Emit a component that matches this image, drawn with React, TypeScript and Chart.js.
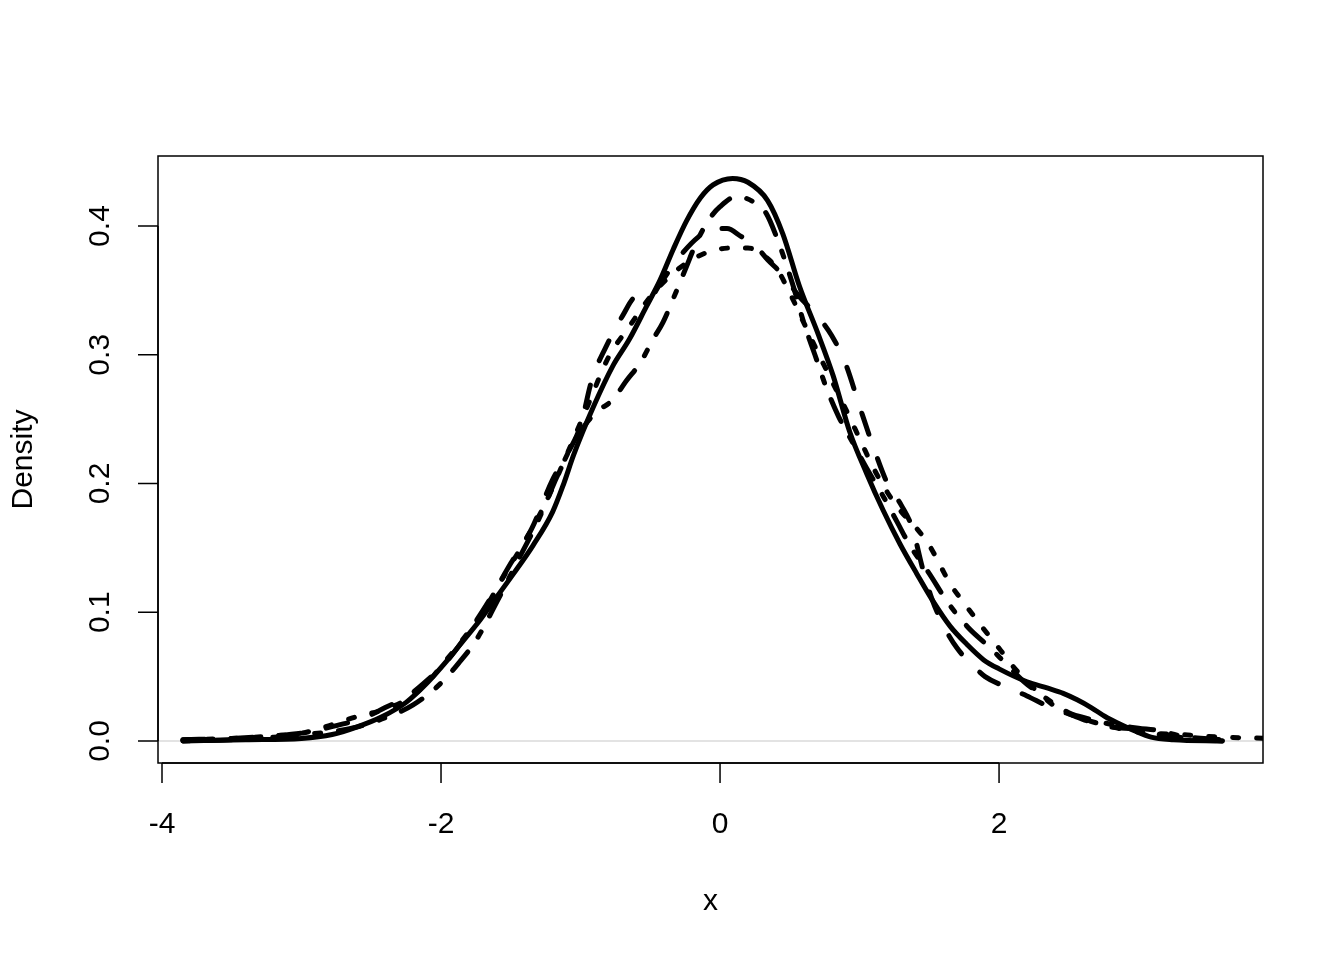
import React, { useEffect, useRef } from "react";
import { Chart, registerables } from "chart.js";

Chart.register(...registerables);

// ---- data ----
const solidX = [-3.85, -3.4, -3.0, -2.78, -2.6, -2.42, -2.25, -2.1, -1.96, -1.84, -1.72, -1.6, -1.48, -1.34, -1.2, -1.12, -1.05, -0.91, -0.77, -0.65, -0.53, -0.43, -0.335, -0.24, -0.14, -0.05, 0.09, 0.2, 0.34, 0.45, 0.57, 0.7, 0.81, 0.93, 1.05, 1.17, 1.29, 1.41, 1.53, 1.65, 1.77, 1.89, 2.0, 2.2, 2.35, 2.46, 2.56, 2.66, 2.76, 2.85, 2.97, 3.09, 3.25, 3.6];
const solidY = [0.0, 0.001, 0.002, 0.005, 0.011, 0.019, 0.03, 0.045, 0.062, 0.078, 0.094, 0.112, 0.13, 0.152, 0.178, 0.2, 0.222, 0.259, 0.291, 0.312, 0.337, 0.358, 0.382, 0.404, 0.422, 0.432, 0.437, 0.434, 0.42, 0.394, 0.353, 0.317, 0.284, 0.24, 0.208, 0.179, 0.153, 0.13, 0.108, 0.089, 0.075, 0.063, 0.056, 0.046, 0.041, 0.037, 0.032, 0.026, 0.019, 0.014, 0.008, 0.003, 0.001, 0.0];

const dashedX = [-3.85, -3.5, -3.2, -2.95, -2.75, -2.55, -2.4, -2.25, -2.1, -1.95, -1.8, -1.65, -1.5, -1.35, -1.2, -1.1, -1.0, -0.92, -0.8, -0.7, -0.6, -0.5, -0.43, -0.3, -0.15, -0.05, 0.05, 0.15, 0.25, 0.34, 0.45, 0.57, 0.7, 0.8, 0.9, 1.0, 1.1, 1.2, 1.3, 1.38, 1.45, 1.52, 1.6, 1.7, 1.8, 1.9, 2.05, 2.2, 2.35, 2.5, 2.65, 2.8, 3.0, 3.2, 3.4, 3.6];
const dashedY = [0.001, 0.002, 0.004, 0.007, 0.012, 0.018, 0.026, 0.034, 0.047, 0.063, 0.085, 0.11, 0.138, 0.165, 0.203, 0.222, 0.245, 0.28, 0.31, 0.33, 0.345, 0.345, 0.355, 0.375, 0.392, 0.398, 0.398, 0.392, 0.385, 0.374, 0.362, 0.345, 0.33, 0.315, 0.293, 0.26, 0.228, 0.2, 0.183, 0.165, 0.135, 0.11, 0.09, 0.072, 0.06, 0.05, 0.042, 0.035, 0.027, 0.021, 0.015, 0.011, 0.009, 0.004, 0.002, 0.0];

const dottedX = [-3.85, -3.5, -3.2, -3.0, -2.8, -2.6, -2.42, -2.25, -2.1, -2.0, -1.85, -1.7, -1.55, -1.4, -1.25, -1.1, -0.95, -0.8, -0.65, -0.5, -0.35, -0.2, -0.05, 0.1, 0.2, 0.3, 0.4, 0.5, 0.6, 0.7, 0.8, 0.9, 1.0, 1.1, 1.2, 1.3, 1.41, 1.5, 1.58, 1.65, 1.75, 1.89, 2.0, 2.1, 2.2, 2.3, 2.4, 2.55, 2.7, 2.85, 3.0, 3.3, 3.6, 3.95];
const dottedY = [0.001, 0.002, 0.004, 0.006, 0.012, 0.019, 0.024, 0.032, 0.045, 0.058, 0.078, 0.1, 0.128, 0.155, 0.185, 0.222, 0.26, 0.298, 0.322, 0.345, 0.362, 0.374, 0.381, 0.383, 0.383, 0.378, 0.368, 0.348, 0.325, 0.302, 0.28, 0.258, 0.235, 0.212, 0.193, 0.178, 0.165, 0.152, 0.136, 0.122, 0.107, 0.087, 0.072, 0.058, 0.046, 0.036, 0.027, 0.019, 0.014, 0.01, 0.007, 0.005, 0.003, 0.002];

const dotdashX = [-3.85, -3.5, -3.2, -3.0, -2.8, -2.6, -2.4, -2.2, -2.0, -1.87, -1.75, -1.6, -1.45, -1.3, -1.17, -1.05, -0.95, -0.88, -0.77, -0.67, -0.57, -0.48, -0.41, -0.33, -0.25, -0.17, -0.08, 0.0, 0.12, 0.25, 0.33, 0.41, 0.52, 0.6, 0.68, 0.76, 0.85, 0.95, 1.05, 1.17, 1.27, 1.36, 1.5, 1.63, 1.78, 1.92, 2.05, 2.18, 2.3, 2.5, 2.65, 2.8, 3.0, 3.15, 3.3, 3.6];
const dotdashY = [0.0, 0.001, 0.003, 0.005, 0.007, 0.011, 0.018, 0.028, 0.045, 0.061, 0.078, 0.108, 0.14, 0.172, 0.205, 0.232, 0.248, 0.256, 0.265, 0.28, 0.294, 0.312, 0.325, 0.345, 0.366, 0.387, 0.405, 0.415, 0.423, 0.418, 0.41, 0.39, 0.355, 0.325, 0.3, 0.275, 0.252, 0.232, 0.212, 0.19, 0.17, 0.152, 0.13, 0.108, 0.088, 0.074, 0.06, 0.046, 0.036, 0.022, 0.017, 0.013, 0.01, 0.008, 0.004, 0.001];

const xTicks = [-4, -2, 0, 2];
const xTickLabels = ["-4", "-2", "0", "2"];
const yTicks = [0, 0.1, 0.2, 0.3, 0.4];
const yTickLabels = ["0.0", "0.1", "0.2", "0.3", "0.4"];
const xTitle = "x";
const yTitle = "Density";

const FONT = '30px "Liberation Sans", Arial, Helvetica, sans-serif';

function pts(xs: number[], ys: number[]) {
  return xs.map((x, i) => ({ x, y: ys[i] }));
}

const rAxesPlugin = {
  id: "rAxes",
  beforeDatasetsDraw(chart: any) {
    const { ctx, chartArea, scales } = chart;
    const y0 = scales.y.getPixelForValue(0);
    ctx.save();
    ctx.strokeStyle = "#c8c8c8";
    ctx.lineWidth = 1.2;
    ctx.beginPath();
    ctx.moveTo(chartArea.left, y0);
    ctx.lineTo(chartArea.right, y0);
    ctx.stroke();
    ctx.restore();
  },
  afterDraw(chart: any) {
    const { ctx, chartArea, scales } = chart;
    const { left, right, top, bottom } = chartArea;
    ctx.save();
    ctx.strokeStyle = "#000";
    ctx.fillStyle = "#000";
    ctx.lineWidth = 1.5;
    ctx.strokeRect(left, top, right - left, bottom - top);
    // x axis
    const xs = xTicks.map((v) => scales.x.getPixelForValue(v));
    ctx.beginPath();
    ctx.moveTo(xs[0], bottom);
    ctx.lineTo(xs[xs.length - 1], bottom);
    xs.forEach((px) => {
      ctx.moveTo(px, bottom);
      ctx.lineTo(px, bottom + 20);
    });
    ctx.stroke();
    ctx.font = FONT;
    ctx.textAlign = "center";
    ctx.textBaseline = "middle";
    xs.forEach((px, i) => ctx.fillText(xTickLabels[i], px, bottom + 62));
    // y axis
    const ys = yTicks.map((v) => scales.y.getPixelForValue(v));
    ctx.beginPath();
    ctx.moveTo(left, ys[0]);
    ctx.lineTo(left, ys[ys.length - 1]);
    ys.forEach((py) => {
      ctx.moveTo(left, py);
      ctx.lineTo(left - 20, py);
    });
    ctx.stroke();
    ys.forEach((py, i) => {
      ctx.save();
      ctx.translate(left - 57, py);
      ctx.rotate(-Math.PI / 2);
      ctx.fillText(yTickLabels[i], 0, 0);
      ctx.restore();
    });
    // titles
    ctx.fillText(xTitle, (left + right) / 2, bottom + 139);
    ctx.save();
    ctx.translate(24, (top + bottom) / 2);
    ctx.rotate(-Math.PI / 2);
    ctx.fillText(yTitle, 0, 0);
    ctx.restore();
    ctx.restore();
  },
};

export default function App() {
  const ref = useRef<HTMLCanvasElement | null>(null);
  useEffect(() => {
    if (!ref.current) return;
    const common = {
      borderColor: "#000",
      backgroundColor: "#000",
      borderWidth: 5,
      borderCapStyle: "round" as const,
      borderJoinStyle: "round" as const,
      pointRadius: 0,
      fill: false,
      cubicInterpolationMode: "monotone" as const,
      clip: 0,
    };
    const chart = new Chart(ref.current, {
      type: "line",
      data: {
        datasets: [
          { ...common, label: "solid", data: pts(solidX, solidY), borderDash: [] },
          { ...common, label: "dashed", data: pts(dashedX, dashedY), borderDash: [22, 26] },
          { ...common, label: "dotted", data: pts(dottedX, dottedY), borderDash: [6, 18] },
          { ...common, label: "dotdash", data: pts(dotdashX, dotdashY), borderDash: [6, 18, 24, 18] },
        ],
      },
      options: {
        animation: false,
        responsive: false,
        devicePixelRatio: 1,
        layout: { padding: { left: 158, top: 156, right: 81, bottom: 197 } },
        scales: {
          x: { type: "linear", min: -4.0287, max: 3.892, display: false },
          y: { type: "linear", min: -0.01709, max: 0.4544, display: false },
        },
        plugins: { legend: { display: false }, tooltip: { enabled: false } },
      },
      plugins: [rAxesPlugin],
    });
    return () => chart.destroy();
  }, []);
  return (
    <div style={{ position: "absolute", left: 0, top: 0, width: 1344, height: 960, background: "#fff" }}>
      <canvas ref={ref} width={1344} height={960} />
    </div>
  );
}
